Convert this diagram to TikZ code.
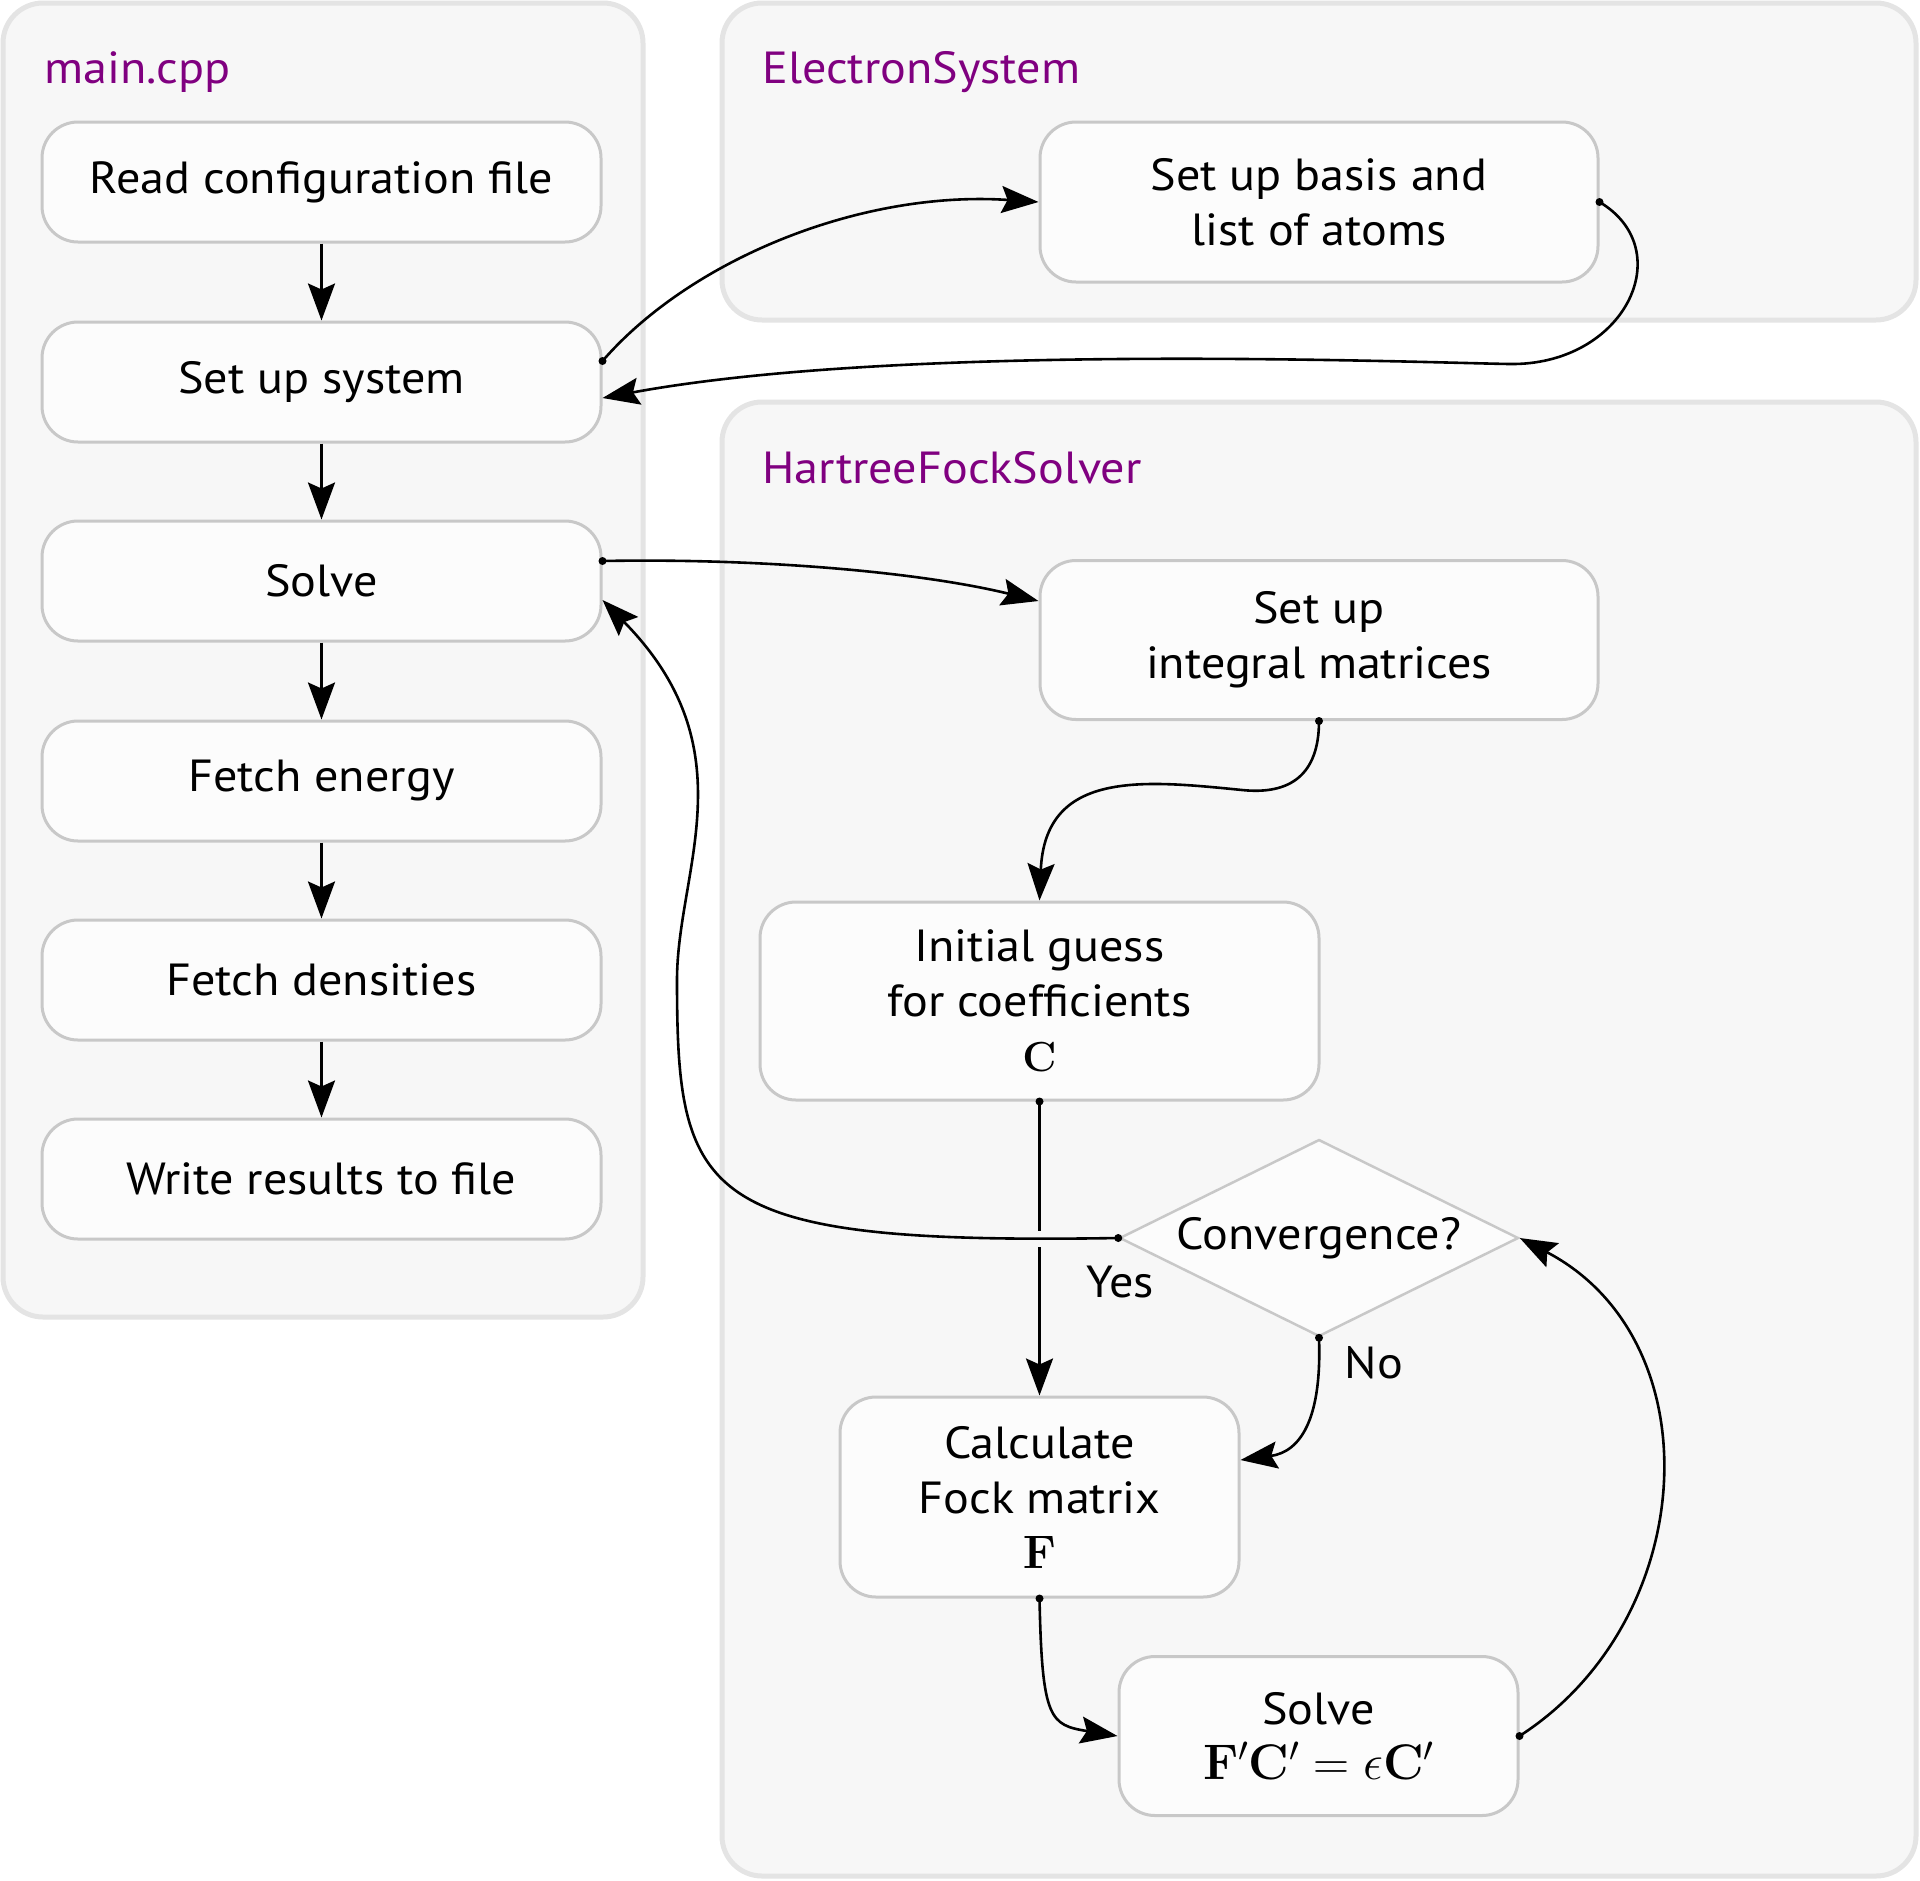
\RequirePackage{fix-cm}
\documentclass[tikz,border=0pt]{standalone}
\usepackage[no-math]{fontspec}
\setmainfont{PT Sans}[FakeStretch=1.07]
\usetikzlibrary{arrows.meta,shapes.geometric}
\definecolor{grpfill}{HTML}{F7F7F7}
\definecolor{grpline}{HTML}{E4E4E4}
\definecolor{boxfill}{HTML}{FCFCFC}
\definecolor{boxline}{HTML}{C8C8C8}
\definecolor{lblpurple}{HTML}{800080}
\newcommand{\mathsmall}{\fontsize{42}{55}\selectfont}
\newcommand{\mathmid}{\fontsize{47}{55}\selectfont}
\newcommand{\mathlarge}{\fontsize{50}{55}\selectfont}
\begin{document}
\begin{tikzpicture}[x=1pt,y=-1pt,
  group/.style={draw=grpline, fill=grpfill, line width=5pt, rounded corners=40pt},
  grouplabel/.style={text=lblpurple, anchor=base west, inner sep=0pt, font=\fontsize{45}{54}\selectfont},
  box/.style={draw=boxline, fill=boxfill, line width=3pt, rounded corners=36pt, inner sep=0pt,
    align=center, font=\fontsize{45}{55}\selectfont, minimum width=559pt, minimum height=120pt},
  decision/.style={diamond, shape aspect=2, draw=boxline, fill=boxfill, line width=2.5pt, inner sep=0pt,
    font=\fontsize{45}{55}\selectfont, minimum width=399pt, minimum height=197pt},
  lbl/.style={inner sep=0pt, font=\fontsize{45}{55}\selectfont},
  conn/.style={line width=2.6pt, -{Stealth[length=37pt,width=27pt,inset=6pt]}},
  dot/.style={fill=black}
]
\useasboundingbox (0,0) rectangle (1920,1880);
% groups
\draw[group] (3,3) rectangle (643,1317);
\draw[group] (722,3) rectangle (1916,320);
\draw[group] (722,402) rectangle (1916,1876);
\node[grouplabel] (lmain) at (44,83) {main.cpp};
\node[grouplabel] (lelec) at (762,83) {ElectronSystem};
\node[grouplabel] (lhf) at (762,483) {HartreeFockSolver};
% main column
\node[box] (read) at (321.5,182) {Read configuration file};
\node[box] (sys) at (321.5,382) {Set up system};
\node[box] (solveL) at (321.5,581) {Solve};
\node[box] (energy) at (321.5,781) {Fetch energy};
\node[box] (dens) at (321.5,980) {Fetch densities};
\node[box] (write) at (321.5,1179) {Write results to file};
% electron system
\node[box, minimum width=558pt, minimum height=160pt] (basis) at (1319,202) {Set up basis and\\list of atoms};
% hartree fock
\node[box, minimum width=558pt, minimum height=159pt] (integ) at (1319,640) {Set up\\integral matrices};
\node[box, minimum width=559pt, minimum height=198pt] (guess) at (1039.5,1001) {Initial guess\\for coefficients\\\mathsmall$\mathbf{C}$};
\node[decision] (conv) at (1319,1238) {Convergence?};
\node[box, minimum width=399pt, minimum height=200pt] (calc) at (1039.5,1497) {Calculate\\Fock matrix\\\mathmid$\mathbf{F}$};
\node[box, minimum width=399pt, minimum height=159pt] (solveR) at (1318.5,1736) {Solve\\\mathlarge$\mathbf{F}'\mathbf{C}'=\epsilon\mathbf{C}'$};
\node[lbl] (yes) at (1120,1282) {Yes};
\node[lbl] (no) at (1374,1363) {No};
% main column arrows
\draw[conn] (read.south) -- (sys.north);
\draw[conn] (sys.south) -- (solveL.north);
\draw[conn] (solveL.south) -- (energy.north);
\draw[conn] (energy.south) -- (dens.north);
\draw[conn] (dens.south) -- (write.north);
% system <-> basis
\draw[conn] ([yshift=21pt]sys.east) .. controls (690,260) and (860,190) .. (basis.west);
\draw[conn] (basis.east) .. controls (1680,250) and (1625,366) .. (1509,364)
  .. controls (1400,362) and (900,343) .. ([yshift=-16pt]sys.east);
% solve -> integrals
\draw[conn] ([yshift=20pt]solveL.east) .. controls (760,558) and (920,572) .. ([yshift=39pt]integ.west);
% integrals -> guess
\draw[conn] (integ.south) .. controls (1319,775) and (1290,795) .. (1242,790)
  .. controls (1142,780) and (1045,770) .. (guess.north);
% guess -> calc
\draw[conn] (guess.south) -- (calc.north);
\fill[grpfill] (1031,1231) rectangle (1048,1247);
% convergence yes -> solve
\draw[conn] (conv.west) .. controls (700,1245) and (677,1200) .. (677,980)
  .. controls (677,870) and (750,750) .. ([yshift=-19pt]solveL.east);
% convergence no -> calc
\draw[conn] (conv.south) .. controls (1322,1420) and (1300,1452) .. ([yshift=37pt]calc.east);
% calc -> solveR
\draw[conn] (calc.south) .. controls (1042,1720) and (1050,1725) .. (solveR.west);
% solveR -> convergence
\draw[conn] (solveR.east) .. controls (1700,1620) and (1715,1340) .. (conv.east);
% start dots
\fill[dot] ([yshift=21pt]sys.east) circle (4pt);
\fill[dot] (basis.east) circle (4pt);
\fill[dot] ([yshift=20pt]solveL.east) circle (4pt);
\fill[dot] (integ.south) circle (4pt);
\fill[dot] (guess.south) circle (4pt);
\fill[dot] (conv.west) circle (4pt);
\fill[dot] (conv.south) circle (4pt);
\fill[dot] (calc.south) circle (4pt);
\fill[dot] (solveR.east) circle (4pt);
\end{tikzpicture}
\end{document}
